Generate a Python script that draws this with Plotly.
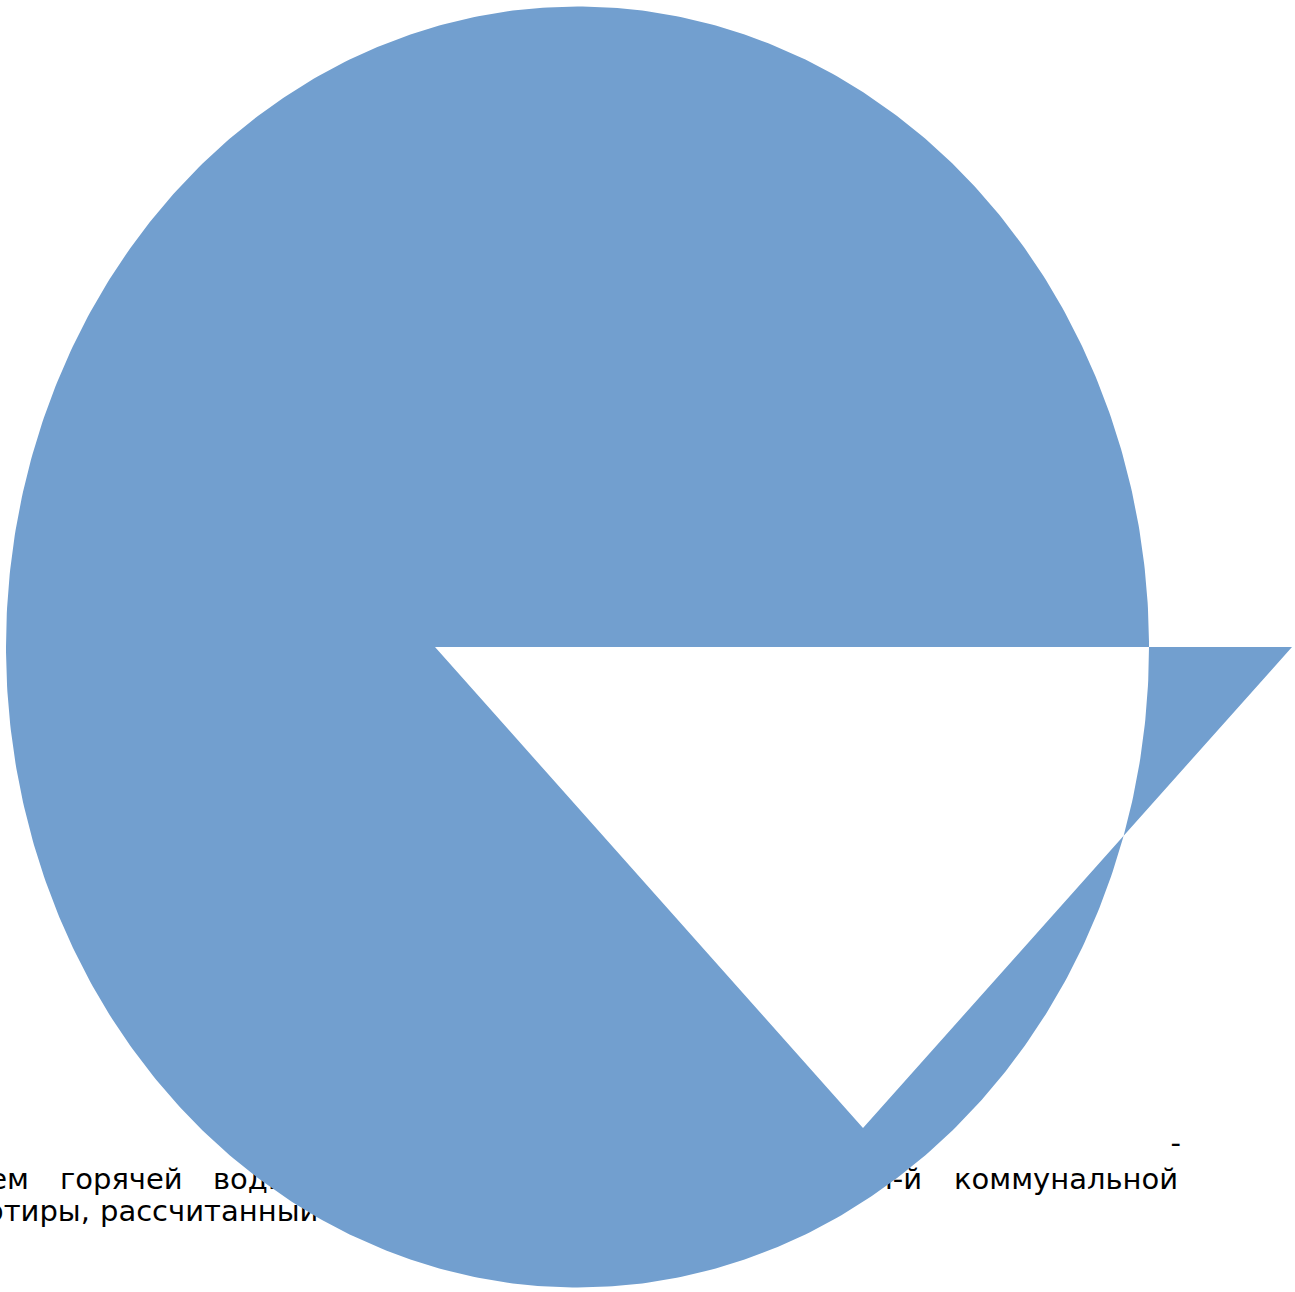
import numpy as np
import plotly.graph_objects as go

# forma: ellisse + triangolo (riempimento a esclusione)
ellipse_center = [577.5, 647.0]
ellipse_radii = [571.5, 640.5]
triangle_x = [435, 863, 1292]
triangle_y = [647, 1128, 647]
fill_color = "#729fcf"

# testo della didascalia (parole per riga)
line1_words = ["-"]
line1_x = [1181]
line1_pos = ["middle left"]

line2_words = ["Объем", "горячей", "воды,", "потребленный", "в", "n-й", "коммунальной"]
line2_x = [29, 60, 213, 330, 600, 922, 954]
line2_pos = ["middle left", "middle right", "middle right", "middle right",
             "middle right", "middle left", "middle right"]

line3_words = ["квартиры,", "рассчитанный по формуле"]
line3_x = [90, 100]
line3_pos = ["middle left", "middle right"]

line_y = [1146, 1182, 1214]

W, H = 1295, 1292

fig = go.Figure()

# testo prima, così la forma lo copre
for words, xs, pos, y in zip([line1_words, line2_words, line3_words],
                             [line1_x, line2_x, line3_x],
                             [line1_pos, line2_pos, line3_pos], line_y):
    fig.add_trace(go.Scatter(
        x=xs,
        y=[y] * len(xs),
        mode='text',
        text=words,
        textposition=pos,
        textfont=dict(family="DejaVu Sans", size=29, color="black"),
        hoverinfo='skip',
        cliponaxis=True
    ))

# ellisse in un verso, triangolo nel verso opposto
t = np.linspace(0, 2 * np.pi, 721)
ex = ellipse_center[0] + ellipse_radii[0] * np.cos(t)
ey = ellipse_center[1] + ellipse_radii[1] * np.sin(t)
start = [ellipse_center[0] + ellipse_radii[0], ellipse_center[1]]
px_ = list(ex) + triangle_x + [start[0]]
py_ = list(ey) + triangle_y + [start[1]]

fig.add_trace(go.Scatter(
    x=px_,
    y=py_,
    mode='lines',
    fill='toself',
    fillcolor=fill_color,
    line=dict(width=0, color=fill_color),
    hoverinfo='skip'
))

fig.update_layout(
    width=W,
    height=H,
    margin=dict(l=0, r=0, t=0, b=0),
    paper_bgcolor="white",
    plot_bgcolor="white",
    showlegend=False,
    xaxis=dict(range=[0, W], visible=False, fixedrange=True),
    yaxis=dict(range=[H, 0], visible=False, fixedrange=True)
)

# niente margine nel body, così il grafico parte da (0, 0)
fig.write_html("out.html",
               config={'displayModeBar': False},
               post_script="document.body.style.margin='0';document.body.style.overflow='hidden';")
